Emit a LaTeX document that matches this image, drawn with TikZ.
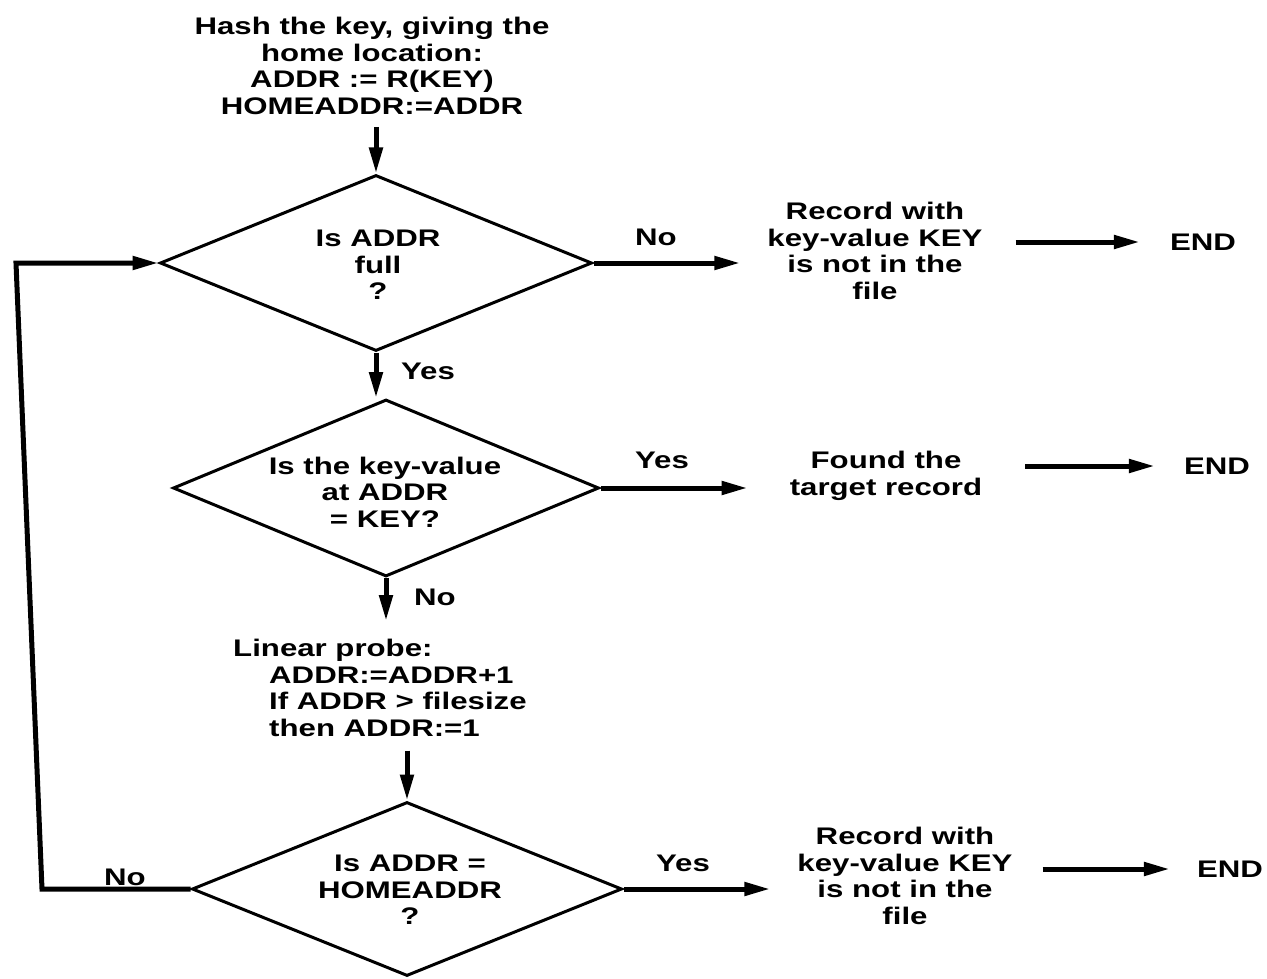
\documentclass[tikz,border=0pt]{standalone}
\usepackage{fontspec}
\setmainfont{Liberation Sans}[FakeStretch=1.3]
\usetikzlibrary{shapes.geometric,arrows.meta}
\begin{document}
\begin{tikzpicture}[x=1pt,y=-1pt,
  txt/.style={font=\fontsize{24}{26.5}\selectfont\bfseries, inner sep=0pt, align=center},
  lbl/.style={font=\fontsize{24}{26.5}\selectfont\bfseries, inner sep=0pt},
  dia/.style={diamond, draw, line width=3pt, inner sep=0pt},
  arr/.style={line width=5pt, -{Triangle[length=26pt,width=13pt]}}]
\useasboundingbox[fill=white] (0,0) rectangle (1267,979);

% top process text
\node[txt] (hash) at (372,66) {Hash the key, giving the\\home location:\\ADDR := R(KEY)\\HOMEADDR:=ADDR};

% decision 1
\node[dia, minimum width=432pt, minimum height=176pt] (d1) at (376,263) {};
\node[txt] (t1) at (378,265) {Is ADDR\\full\\?};

% decision 2
\node[dia, minimum width=426pt, minimum height=177pt] (d2) at (386,488) {};
\node[txt] (t2) at (385,492) {Is the key-value\\at ADDR\\= KEY?};

% linear probe
\node[txt, align=left, anchor=north west] (probe) at (233,639)
  {Linear probe:\\\hspace*{36pt}ADDR:=ADDR+1\\\hspace*{36pt}If ADDR > filesize\\\hspace*{36pt}then ADDR:=1};

% decision 3
\node[dia, minimum width=430pt, minimum height=174pt] (d3) at (407,889) {};
\node[txt] (t3) at (410,890) {Is ADDR =\\HOMEADDR\\?};

% results
\node[txt] (r1) at (875,251) {Record with\\key-value KEY\\is not in the\\file};
\node[txt] (f2) at (886,476) {Found the\\target record};
\node[txt] (r3) at (905,876) {Record with\\key-value KEY\\is not in the\\file};
\node[txt] (e1) at (1203,242) {END};
\node[txt] (e2) at (1217,466) {END};
\node[txt] (e3) at (1230,869) {END};

% vertical arrows
\draw[arr, shorten <=12pt] (d1.north |- hash.south) -- (d1.north);
\draw[arr] (d1.south) -- (d1.south |- d2.north);
\draw[arr, shorten >=18pt] (d2.south) -- (d2.south |- probe.north);
\draw[arr, shorten <=14pt] (d3.north |- probe.south) -- (d3.north);

% horizontal arrows
\draw[arr, shorten >=27pt] (d1.east) -- (d1.east -| r1.west);
\draw[arr, shorten >=42pt] (d2.east) -- (d2.east -| f2.west);
\draw[arr, shorten >=27pt] (d3.east) -- (d3.east -| r3.west);
\draw[arr, shorten <=33pt, shorten >=30pt] (r1.east |- e1.west) -- (e1.west);
\draw[arr, shorten <=43pt, shorten >=29pt] (f2.east |- e2.west) -- (e2.west);
\draw[arr, shorten <=30pt, shorten >=27pt] (r3.east |- e3.west) -- (e3.west);

% loop back
\coordinate (c1) at (42,889);
\coordinate (c2) at (16,263);
\draw[arr] (d3.west) -- (c1 |- d3.west) -- (c2) -- (c2 |- d1.west) -- (d1.west);

% labels
\node[lbl] (l1) at (428,371) {Yes};
\node[lbl] (l2) at (435,597) {No};
\node[lbl] (l3) at (656,237) {No};
\node[lbl] (l4) at (662,460) {Yes};
\node[lbl] (l5) at (683,863) {Yes};
\node[lbl] (l6) at (125,877) {No};
\end{tikzpicture}
\end{document}
